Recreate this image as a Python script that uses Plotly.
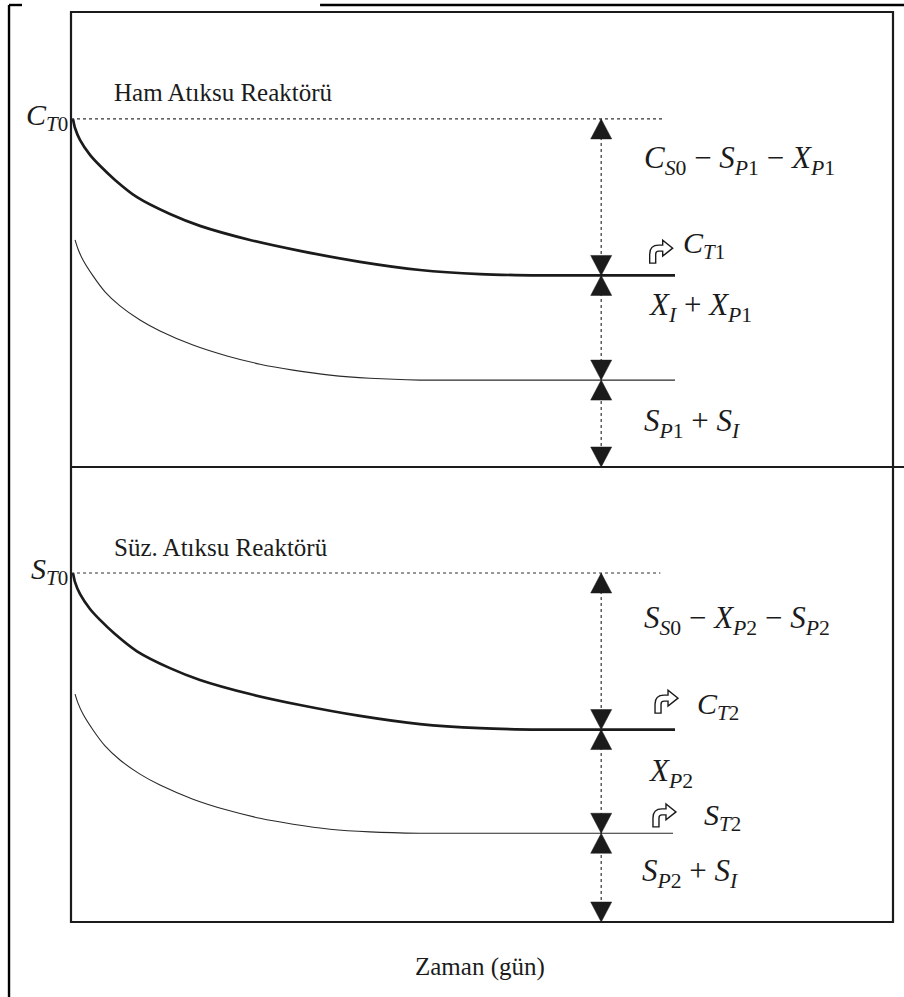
import plotly.graph_objects as go

# ---- schematic time axis (days) and relative concentration axis ----
# Raw wastewater reactor (Ham Atıksu Reaktörü)
t_total_raw = [0.24, 0.49, 1.09, 2.31, 3.53, 5.35, 8.03, 12.04, 15.69, 21.78, 27.86,
               35.16, 42.46, 49.76, 57.06, 73.48]
c_total_raw = [76.5, 74.5, 71.9, 68.6, 66.2, 63.1, 59.3, 55.6, 53.0, 49.9, 47.5,
               45.1, 43.3, 42.4, 42.1, 42.1]
t_soluble_raw = [0.49, 0.85, 1.46, 2.68, 4.14, 5.96, 8.39, 10.83, 14.84, 18.98, 22.99,
                 27.01, 31.51, 36.37, 42.46, 73.48]
s_soluble_raw = [49.9, 47.9, 45.5, 42.0, 38.5, 35.4, 32.3, 29.9, 26.8, 24.4, 22.6,
                 21.3, 20.2, 19.5, 19.1, 19.1]

# Filtered wastewater reactor (Süz. Atıksu Reaktörü)
t_total_filt = [0.24, 0.49, 1.09, 2.31, 3.53, 5.35, 8.03, 12.04, 15.69, 21.78, 27.86,
                35.16, 42.46, 49.76, 57.06, 73.48]
c_total_filt = [76.7, 74.7, 72.1, 68.8, 66.4, 63.3, 59.5, 55.8, 53.2, 50.1, 47.7,
                45.3, 43.5, 42.6, 42.3, 42.3]
t_soluble_filt = [0.49, 0.85, 1.46, 2.68, 4.14, 5.96, 8.39, 10.83, 14.84, 18.98, 22.99,
                  27.01, 31.51, 36.37, 42.46, 73.24]
s_soluble_filt = [50.1, 48.1, 45.7, 42.2, 38.7, 35.6, 32.5, 30.1, 27.0, 24.6, 22.8,
                  21.5, 20.4, 19.8, 19.5, 19.5]

# characteristic levels: initial total, final total, final soluble, zero
levels_raw = [76.5, 42.1, 19.1, 0.0]
levels_filt = [76.7, 42.3, 19.5, 0.0]
t_initial_line_raw = [0.0, 72.0]
t_initial_line_filt = [0.0, 71.7]
t_bracket = 64.5

INK = "#1b1b1b"
SERIF = "Liberation Serif, Times New Roman, serif"

fig = go.Figure()


def add_panel(xa, ya, t_tot, c_tot, t_sol, s_sol, levels, t_init):
    # thick curve: total COD, thin curve: soluble COD
    fig.add_trace(go.Scatter(x=t_tot, y=c_tot, mode="lines", xaxis=xa, yaxis=ya,
                             line=dict(color=INK, width=2.7, shape="spline", smoothing=0.6),
                             hoverinfo="skip"))
    fig.add_trace(go.Scatter(x=t_sol, y=s_sol, mode="lines", xaxis=xa, yaxis=ya,
                             line=dict(color="#2a2a2a", width=1.1, shape="spline", smoothing=0.6),
                             hoverinfo="skip"))
    # dotted line at the initial level
    fig.add_trace(go.Scatter(x=t_init, y=[levels[0], levels[0]], mode="lines", xaxis=xa, yaxis=ya,
                             line=dict(color="#333333", width=1.2, dash="dot"), hoverinfo="skip"))
    # dotted vertical dimension line
    fig.add_trace(go.Scatter(x=[t_bracket, t_bracket], y=[levels[0], levels[-1]], mode="lines",
                             xaxis=xa, yaxis=ya,
                             line=dict(color="#333333", width=1.2, dash="dot"), hoverinfo="skip"))
    # arrow heads (pixel-sized, anchored at the levels)
    heads = [(levels[0], "up")]
    for lv in levels[1:-1]:
        heads += [(lv, "down"), (lv, "up")]
    heads.append((levels[-1], "down"))
    w, h = 10.5, 20
    for lv, kind in heads:
        if kind == "up":
            path = f"M0,0 L{-w},{-h} L{w},{-h} Z"
        else:
            path = f"M0,0 L{-w},{h} L{w},{h} Z"
        fig.add_shape(type="path", path=path, xref=xa, yref=ya,
                      xsizemode="pixel", ysizemode="pixel",
                      xanchor=t_bracket, yanchor=lv,
                      fillcolor=INK, line=dict(color=INK, width=0.5))


add_panel("x", "y", t_total_raw, c_total_raw, t_soluble_raw, s_soluble_raw,
          levels_raw, t_initial_line_raw)
add_panel("x2", "y2", t_total_filt, c_total_filt, t_soluble_filt, s_soluble_filt,
          levels_filt, t_initial_line_filt)

axis_common = dict(range=[0, 100], showgrid=False, zeroline=False, showticklabels=False,
                   ticks="", showline=False, fixedrange=True)

fig.update_layout(
    width=904, height=997,
    margin=dict(l=71, r=11, t=12, b=75),
    paper_bgcolor="white", plot_bgcolor="white",
    showlegend=False,
    xaxis=dict(domain=[0, 1], anchor="y", **axis_common),
    yaxis=dict(domain=[0.5, 1], anchor="x", **axis_common),
    xaxis2=dict(domain=[0, 1], anchor="y2", **axis_common),
    yaxis2=dict(domain=[0, 0.5], anchor="x2", **axis_common),
)

MATH = 31


def note(text, x, y, xa, ya, size=MATH, xanchor="left", xshift=0, yshift=0):
    fig.add_annotation(text=text, x=x, y=y, xref=xa, yref=ya, showarrow=False,
                       xanchor=xanchor, yanchor="middle", xshift=xshift, yshift=yshift,
                       font=dict(family=SERIF, size=size, color=INK))


def sym(base, sub):
    return f"<i>{base}</i><sub><i>{sub[0]}</i>{sub[1:]}</sub>"


def curved_arrow(x, y, xa, ya):
    # hollow arrow rising from the bottom and turning right
    path = ("M0,0 L0,9 Q0,18 9,18 L13,18 L13,23 L23,15 L13,7 L13,12 "
            "L9,12 Q6,12 6,9 L6,0 Z")
    fig.add_shape(type="path", path=path, xref=xa, yref=ya,
                  xsizemode="pixel", ysizemode="pixel", xanchor=x, yanchor=y,
                  fillcolor="white", line=dict(color=INK, width=1.4))


MINUS = " \u2212 "

# upper panel texts
note("Ham Atıksu Reaktörü", 5.0, 82.2, "x", "y", size=25)
note(sym("C", "T0"), 0, levels_raw[0], "x", "y", size=30, xanchor="right", xshift=-1, yshift=2)
note(sym("C", "S0") + MINUS + sym("S", "P1") + MINUS + sym("X", "P1"), 69.5, 67.5, "x", "y")
curved_arrow(70.4, 44.8, "x", "y")
note(sym("C", "T1"), 74.2, 48.8, "x", "y", size=30)
note(sym("X", "I") + " + " + sym("X", "P1"), 69.9, 35.2, "x", "y")
note(sym("S", "P1") + " + " + sym("S", "I"), 69.5, 9.7, "x", "y")

# lower panel texts
note("Süz. Atıksu Reaktörü", 5.0, 82.4, "x2", "y2", size=25)
note(sym("S", "T0"), 0, levels_filt[0], "x2", "y2", size=30, xanchor="right", xshift=-1, yshift=2)
note(sym("S", "S0") + MINUS + sym("X", "P2") + MINUS + sym("S", "P2"), 69.5, 66.4, "x2", "y2")
curved_arrow(71.05, 45.9, "x2", "y2")
note(sym("C", "T2"), 75.9, 47.5, "x2", "y2", size=30)
note(sym("X", "P2"), 69.9, 32.7, "x2", "y2")
curved_arrow(70.8, 20.9, "x2", "y2")
note(sym("S", "T2"), 76.8, 23.1, "x2", "y2", size=30)
note(sym("S", "P2") + " + " + sym("S", "I"), 69.2, 10.8, "x2", "y2")

# time axis caption
fig.add_annotation(text="Zaman (gün)", x=0.4976, y=-0.0495, xref="paper", yref="paper",
                   showarrow=False, xanchor="center", yanchor="middle",
                   font=dict(family=SERIF, size=25, color=INK))

# inner box, divider (running to the right edge) and outer frame
box = dict(color=INK, width=2.2)
fig.add_shape(type="rect", xref="paper", yref="paper", x0=0, x1=1, y0=0, y1=1,
              line=box, layer="above")
fig.add_shape(type="line", xref="paper", yref="paper", x0=0, x1=1.0134,
              y0=0.5, y1=0.5, line=box, layer="above")
frame = dict(color="#000000", width=2.4)
fig.add_shape(type="line", xref="paper", yref="paper", x0=-0.0754, x1=-0.0754,
              y0=-0.0824, y1=1.0077, line=frame)
fig.add_shape(type="line", xref="paper", yref="paper", x0=-0.0754, x1=-0.0596,
              y0=1.0077, y1=1.0077, line=frame)
fig.add_shape(type="line", xref="paper", yref="paper", x0=0.303, x1=1.0134,
              y0=1.0077, y1=1.0077, line=frame)

fig.write_html("out.html")
